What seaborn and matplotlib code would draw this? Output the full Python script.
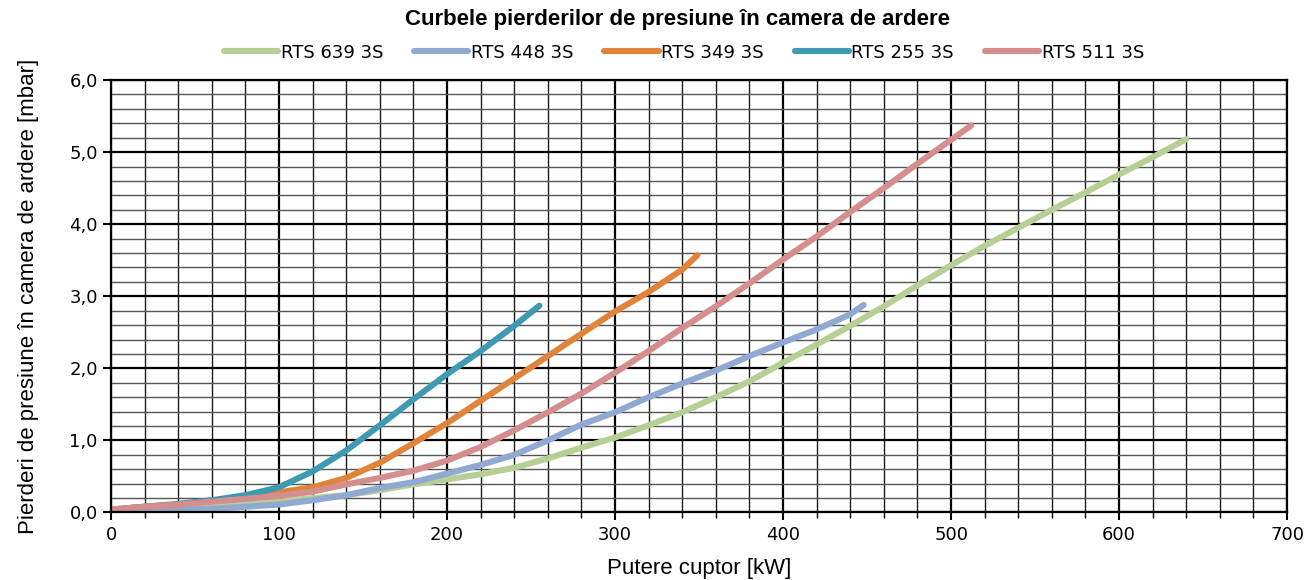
import matplotlib
matplotlib.use("Agg")
import matplotlib.pyplot as plt
from matplotlib.ticker import MultipleLocator, FuncFormatter
import seaborn as sns
import pandas as pd

# curve data (kW, mbar)
x_255 = [0, 20, 40, 60, 80, 100, 120, 140, 160, 180, 200, 220, 240, 255]
y_255 = [0.04, 0.08, 0.12, 0.17, 0.24, 0.35, 0.57, 0.86, 1.21, 1.57, 1.92, 2.24, 2.59, 2.87]

x_349 = [0, 20, 40, 60, 80, 100, 120, 140, 160, 180, 200, 220, 240, 260, 280, 300, 320, 340, 349]
y_349 = [0.04, 0.08, 0.11, 0.16, 0.22, 0.28, 0.35, 0.48, 0.69, 0.96, 1.24, 1.55, 1.86, 2.17, 2.48, 2.79, 3.06, 3.37, 3.57]

x_511 = [0, 20, 40, 60, 80, 100, 120, 140, 160, 180, 200, 220, 240, 260, 280, 300,
         320, 340, 360, 380, 400, 420, 440, 460, 480, 500, 512]
y_511 = [0.04, 0.08, 0.11, 0.15, 0.19, 0.23, 0.29, 0.39, 0.48, 0.58, 0.72, 0.91, 1.14, 1.39, 1.65, 1.94,
         2.24, 2.56, 2.86, 3.18, 3.51, 3.83, 4.17, 4.50, 4.84, 5.17, 5.37]

x_448 = [0, 20, 40, 60, 80, 100, 120, 140, 160, 180, 200, 220, 240, 260, 280, 300,
         320, 340, 360, 380, 400, 420, 440, 448]
y_448 = [0.02, 0.03, 0.04, 0.05, 0.08, 0.11, 0.17, 0.24, 0.34, 0.42, 0.54, 0.66, 0.80, 1.00, 1.22, 1.39,
         1.60, 1.79, 1.97, 2.17, 2.36, 2.54, 2.75, 2.88]

x_639 = [0, 20, 40, 60, 80, 100, 120, 140, 160, 180, 200, 220, 240, 260, 280, 300,
         320, 340, 360, 380, 400, 420, 440, 460, 480, 500, 520, 540, 560, 580, 600, 620, 640]
y_639 = [0.04, 0.06, 0.08, 0.10, 0.12, 0.15, 0.20, 0.24, 0.31, 0.39, 0.46, 0.53, 0.62, 0.75, 0.90, 1.04,
         1.21, 1.39, 1.60, 1.82, 2.08, 2.33, 2.59, 2.86, 3.15, 3.43, 3.70, 3.95, 4.20, 4.44, 4.69, 4.93, 5.18]

series = ["RTS 639 3S", "RTS 448 3S", "RTS 349 3S", "RTS 255 3S", "RTS 511 3S"]
colors = ["#b5cf94", "#8fa9d2", "#e0843b", "#3e9ab1", "#d48e8e"]

frames = []
for name, xs, ys in [("RTS 639 3S", x_639, y_639), ("RTS 448 3S", x_448, y_448),
                     ("RTS 349 3S", x_349, y_349), ("RTS 255 3S", x_255, y_255),
                     ("RTS 511 3S", x_511, y_511)]:
    frames.append(pd.DataFrame({"kW": xs, "mbar": ys, "model": name}))
df = pd.concat(frames, ignore_index=True)

sns.set_style("white")
plt.rcParams['font.family'] = ['Liberation Sans', 'DejaVu Sans']
plt.rcParams['text.color'] = 'black'
plt.rcParams['axes.labelcolor'] = 'black'
plt.rcParams['xtick.color'] = 'black'
plt.rcParams['ytick.color'] = 'black'

fig = plt.figure(figsize=(13.08, 5.8), dpi=100)
ax = fig.add_axes([0.0849, 0.1164, 0.8991, 0.7456])

sns.lineplot(data=df, x="kW", y="mbar", hue="model", hue_order=series,
             palette=colors, lw=4.4, sort=False, estimator=None, ax=ax)
for ln in ax.lines:
    ln.set_solid_capstyle("round")

ax.set_xlim(0, 700)
ax.set_ylim(0, 6)
ax.xaxis.set_major_locator(MultipleLocator(100))
ax.xaxis.set_minor_locator(MultipleLocator(20))
ax.yaxis.set_major_locator(MultipleLocator(1))
ax.yaxis.set_minor_locator(MultipleLocator(0.2))
ax.yaxis.set_major_formatter(FuncFormatter(lambda v, p: f"{v:.1f}".replace(".", ",")))

ax.set_axisbelow(True)
ax.grid(which="major", color="black", lw=1.6)
ax.xaxis.grid(which="minor", color="#1a1a1a", lw=1.0)
ax.yaxis.grid(which="minor", color="#555555", lw=1.0)
for s in ax.spines.values():
    s.set_color("black")
    s.set_linewidth(1.6)

ax.tick_params(axis="both", which="major", direction="out", length=6, width=1.5,
               color="black", labelsize=13, left=True, bottom=True,
               labelfontfamily="DejaVu Sans")
ax.tick_params(axis="x", which="minor", direction="out", length=4, width=1,
               color="black", bottom=True)

ax.set_xlabel("Putere cuptor [kW]", fontsize=16, labelpad=10)
ax.set_ylabel("Pierderi de presiune în camera de ardere [mbar]", fontsize=16, labelpad=22)

fig.suptitle("Curbele pierderilor de presiune în camera de ardere", fontsize=16,
             fontweight="bold", x=0.518, y=0.966, va="center")
handles, labels = ax.get_legend_handles_labels()
ax.legend_.remove()
leg = fig.legend(handles, labels, loc="center", bbox_to_anchor=(0.523, 0.909), ncol=5,
                 frameon=False, handlelength=3.0, handletextpad=0.15, columnspacing=1.7,
                 prop={"family": ["DejaVu Sans"], "size": 13})
for h in leg.legend_handles:
    h.set_linewidth(4.4)

fig.savefig("out.png", dpi=100)
